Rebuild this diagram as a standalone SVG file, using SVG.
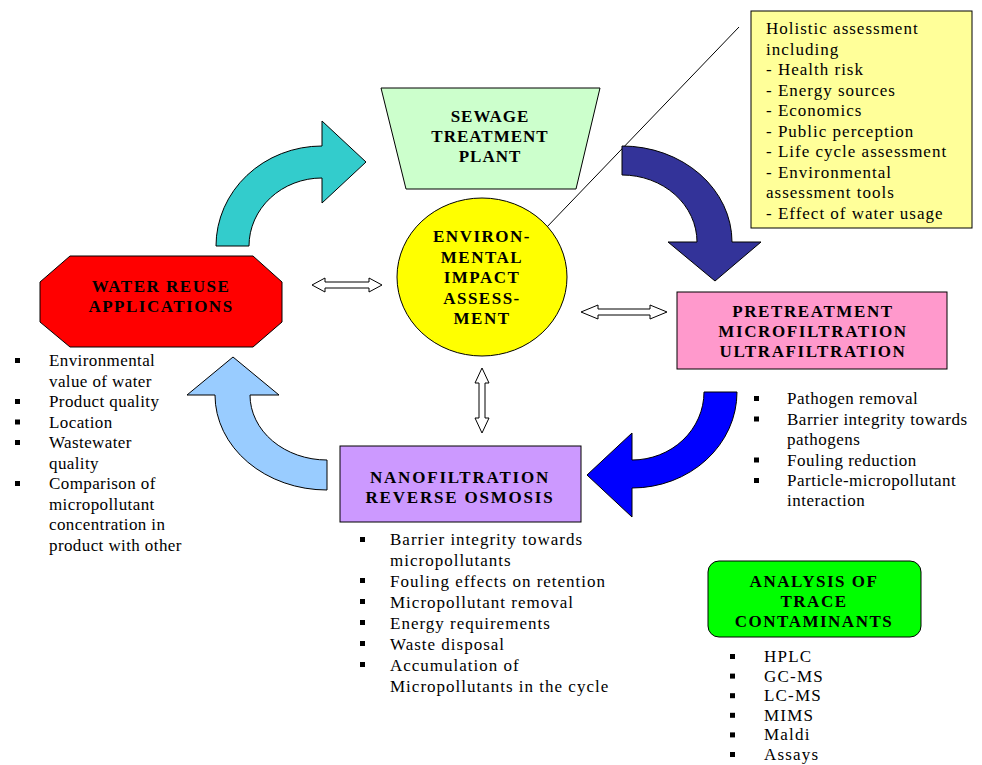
<svg xmlns="http://www.w3.org/2000/svg" width="982" height="765" viewBox="0 0 982 765">
<style>
.nd{stroke:#000;stroke-width:1}
.lbl{font-family:"Liberation Serif","Times New Roman",serif;font-weight:bold;font-size:17px;text-anchor:middle;fill:#000;letter-spacing:1.5px}
.txt{font-family:"Liberation Serif","Times New Roman",serif;font-size:17px;fill:#000}
.arr{stroke:#000;stroke-width:1;stroke-linejoin:miter}
.dbl{fill:#fff;stroke:#000;stroke-width:1}
.bl{fill:#000}
</style>
<rect width="982" height="765" fill="#fff"/>

<g id="connectors">
  <line x1="739" y1="27" x2="545" y2="229" stroke="#000" stroke-width="1"/>
  <path class="arr" fill="#33CCCC" d="M216,246 A106,100 0 0 1 322,146 L322,121 L366,162 L322,203 L322,178 A73,68 0 0 0 249,246 Z"/>
  <path class="arr" fill="#333399" d="M622,146 A110,96 0 0 1 732,242 L761,242 L715,281 L668,242 L697,242 A75,67 0 0 0 622,175 Z"/>
  <path class="arr" fill="#0000FF" d="M737,392 A105,96 0 0 1 632,488 L632,517 L587,475 L632,433 L632,460 A72,68 0 0 0 704,392 Z"/>
  <path class="arr" fill="#99CCFF" d="M327,490 A112,95 0 0 1 215,395 L187,395 L233,357 L279,395 L250,395 A77,65 0 0 0 327,460 Z"/>
  <polygon class="dbl" points="312,285 325,278 325,282 369,282 369,278 382,285 369,292 369,288 325,288 325,292"/>
  <polygon class="dbl" points="581,312 598,305 598,309 650,309 650,305 667,312 650,319 650,315 598,315 598,319"/>
  <polygon class="dbl" points="482,368 489,383 485,383 485,418 489,418 482,433 475,418 479,418 479,383 475,383"/>
</g>

<g id="sewage">
  <polygon class="nd" fill="#CCFFCC" points="381,88 600,88 576,189 406,189"/>
  <text class="lbl" style="letter-spacing:1px" x="490" y="122">SEWAGE</text>
  <text class="lbl" style="letter-spacing:1px" x="490" y="142">TREATMENT</text>
  <text class="lbl" style="letter-spacing:1px" x="490" y="162">PLANT</text>
</g>

<g id="eia">
  <ellipse class="nd" fill="#FFFF00" cx="482" cy="277" rx="85" ry="79"/>
  <text class="lbl" x="482" y="242">ENVIRON-</text>
  <text class="lbl" x="482" y="263">MENTAL</text>
  <text class="lbl" x="482" y="283">IMPACT</text>
  <text class="lbl" x="482" y="304">ASSESS-</text>
  <text class="lbl" x="482" y="324">MENT</text>
</g>

<g id="note">
  <rect class="nd" fill="#FFFF99" x="751" y="11" width="221" height="217"/>
  <g class="txt" style="letter-spacing:1px">
    <text x="766" y="34">Holistic assessment</text>
    <text x="766" y="54.5">including</text>
    <text x="766" y="75">- Health risk</text>
    <text x="766" y="95.5">- Energy sources</text>
    <text x="766" y="116">- Economics</text>
    <text x="766" y="136.5">- Public perception</text>
    <text x="766" y="157">- Life cycle assessment</text>
    <text x="766" y="177.5">- Environmental</text>
    <text x="766" y="198">assessment tools</text>
    <text x="766" y="218.5">- Effect of water usage</text>
  </g>
</g>

<g id="reuse">
  <polygon class="nd" fill="#FF0000" points="70,256 253,256 282,282 282,322 253,347 70,347 40,322 40,282"/>
  <text class="lbl" x="161" y="292">WATER REUSE</text>
  <text class="lbl" x="161" y="312">APPLICATIONS</text>
</g>

<g id="reuse-list">
  <g class="bl">
    <rect x="15" y="358" width="5" height="5"/>
    <rect x="15" y="399" width="5" height="5"/>
    <rect x="15" y="419.5" width="5" height="5"/>
    <rect x="15" y="440" width="5" height="5"/>
    <rect x="15" y="481" width="5" height="5"/>
  </g>
  <g class="txt" style="letter-spacing:0.4px">
    <text x="49" y="366">Environmental</text>
    <text x="49" y="386.5">value of water</text>
    <text x="49" y="407">Product quality</text>
    <text x="49" y="427.5">Location</text>
    <text x="49" y="448">Wastewater</text>
    <text x="49" y="468.5">quality</text>
    <text x="49" y="489">Comparison of</text>
    <text x="49" y="509.5">micropollutant</text>
    <text x="49" y="530">concentration in</text>
    <text x="49" y="550.5">product with other</text>
  </g>
</g>

<g id="pretreatment">
  <rect class="nd" fill="#FF99CC" x="677" y="292" width="270" height="77"/>
  <text class="lbl" style="letter-spacing:1.6px" x="813" y="317">PRETREATMENT</text>
  <text class="lbl" style="letter-spacing:1.6px" x="813" y="337">MICROFILTRATION</text>
  <text class="lbl" style="letter-spacing:1.6px" x="813" y="357">ULTRAFILTRATION</text>
</g>

<g id="pre-list">
  <g class="bl">
    <rect x="754" y="396" width="5" height="5"/>
    <rect x="754" y="416.5" width="5" height="5"/>
    <rect x="754" y="457.5" width="5" height="5"/>
    <rect x="754" y="478" width="5" height="5"/>
  </g>
  <g class="txt" style="letter-spacing:0.5px">
    <text x="787" y="404">Pathogen removal</text>
    <text x="787" y="424.5">Barrier integrity towards</text>
    <text x="787" y="445">pathogens</text>
    <text x="787" y="465.5">Fouling reduction</text>
    <text x="787" y="486">Particle-micropollutant</text>
    <text x="787" y="506">interaction</text>
  </g>
</g>

<g id="nanofiltration">
  <rect class="nd" fill="#CC99FF" x="340" y="446" width="241" height="76"/>
  <text class="lbl" style="letter-spacing:1.8px" x="460" y="483">NANOFILTRATION</text>
  <text class="lbl" style="letter-spacing:1.8px" x="460" y="503">REVERSE OSMOSIS</text>
</g>

<g id="nano-list">
  <g class="bl">
    <rect x="360" y="537" width="5" height="5"/>
    <rect x="360" y="578" width="5" height="5"/>
    <rect x="360" y="599" width="5" height="5"/>
    <rect x="360" y="620" width="5" height="5"/>
    <rect x="360" y="641" width="5" height="5"/>
    <rect x="360" y="662" width="5" height="5"/>
  </g>
  <g class="txt" style="letter-spacing:1px">
    <text x="390" y="545">Barrier integrity towards</text>
    <text x="390" y="566">micropollutants</text>
    <text x="390" y="587">Fouling effects on retention</text>
    <text x="390" y="608">Micropollutant removal</text>
    <text x="390" y="629">Energy requirements</text>
    <text x="390" y="650">Waste disposal</text>
    <text x="390" y="671">Accumulation of</text>
    <text x="390" y="692">Micropollutants in the cycle</text>
  </g>
</g>

<g id="analysis">
  <rect class="nd" fill="#00FF00" x="708" y="561" width="213" height="76" rx="11" ry="11"/>
  <text class="lbl" x="814" y="587">ANALYSIS OF</text>
  <text class="lbl" x="814" y="607">TRACE</text>
  <text class="lbl" x="814" y="627">CONTAMINANTS</text>
</g>

<g id="analysis-list">
  <g class="bl">
    <rect x="730" y="654" width="5" height="5"/>
    <rect x="730" y="673.6" width="5" height="5"/>
    <rect x="730" y="693.2" width="5" height="5"/>
    <rect x="730" y="712.8" width="5" height="5"/>
    <rect x="730" y="732.4" width="5" height="5"/>
    <rect x="730" y="752" width="5" height="5"/>
  </g>
  <g class="txt" style="letter-spacing:1.2px">
    <text x="764" y="662">HPLC</text>
    <text x="764" y="681.6">GC-MS</text>
    <text x="764" y="701.2">LC-MS</text>
    <text x="764" y="720.8">MIMS</text>
    <text x="764" y="740.4">Maldi</text>
    <text x="764" y="760">Assays</text>
  </g>
</g>
</svg>
